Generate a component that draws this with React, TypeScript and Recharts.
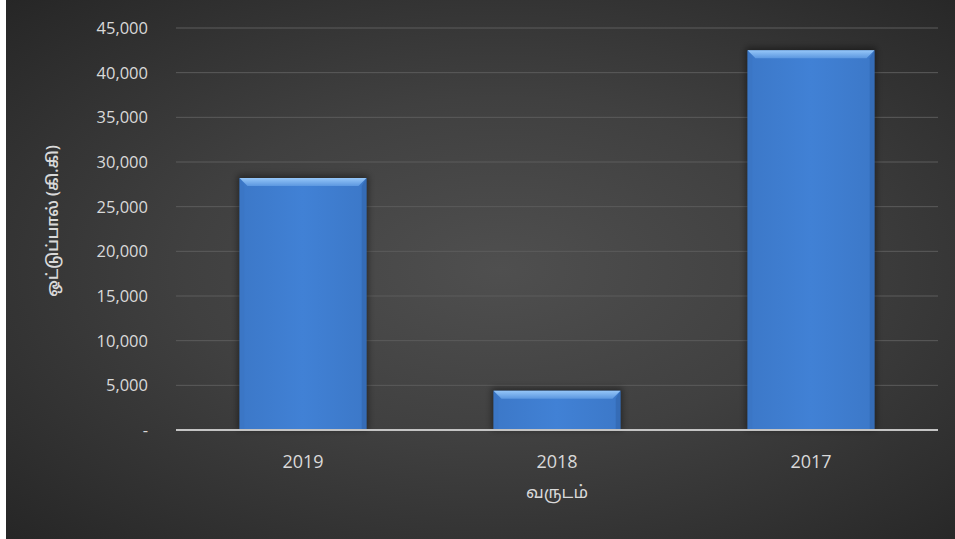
import React from 'react';
import { BarChart, Bar, XAxis, YAxis, CartesianGrid } from 'recharts';

const years = ['2019', '2018', '2017'];
const scrapKg = [28200, 4400, 42500];
const yTicks = [0, 5000, 10000, 15000, 20000, 25000, 30000, 35000, 40000, 45000];

const data = years.map((year, i) => ({ year, value: scrapKg[i] }));

const font = '"Open Sans", "Noto Sans", sans-serif';
const tamilFont = '"Noto Sans", "Noto Sans Tamil", "Lato", sans-serif';

const fmt = (v: number) => (v === 0 ? '-' : v.toLocaleString('en-US'));

// bevelled blue bar, like the office "bevel" preset
const BevelBar = (props: any) => {
  const { x, y, width, height } = props;
  if (!height || height <= 0) return null;
  const b = Math.min(8, height / 2);
  return (
    <g>
      <rect x={x - 2} y={y - 3} width={width + 4} height={height + 3} fill="rgba(0,0,0,0.4)" filter="url(#barShadow)" />
      <rect x={x} y={y} width={width} height={height} fill="url(#barBody)" />
      <polygon points={`${x},${y} ${x + width},${y} ${x + width - b},${y + b} ${x + b},${y + b}`} fill="url(#barTop)" />
      <polygon points={`${x},${y} ${x + b * 0.6},${y + b} ${x + b * 0.6},${y + height} ${x},${y + height}`} fill="#3a74c2" opacity={0.5} />
      <polygon points={`${x + width},${y} ${x + width - b * 0.6},${y + b} ${x + width - b * 0.6},${y + height} ${x + width},${y + height}`} fill="#2f63a8" opacity={0.55} />
    </g>
  );
};

export default function App() {
  return (
    <div style={{ position: 'absolute', left: 0, top: 0, width: 955, height: 539, background: '#ffffff' }}>
      <div
        style={{
          position: 'absolute',
          left: 6,
          top: 0,
          width: 949,
          height: 539,
          background: 'radial-gradient(ellipse at 52% 50%, #4f4f4f 0%, #404040 45%, #262626 100%)',
        }}
      >
        <BarChart
          width={949}
          height={539}
          data={data}
          margin={{ top: 28, right: 17, bottom: 0, left: 0 }}
          barCategoryGap="25%"
        >
          <defs>
            <linearGradient id="barBody" x1="0" y1="0" x2="1" y2="0">
              <stop offset="0%" stopColor="#3c78c8" />
              <stop offset="50%" stopColor="#4181d5" />
              <stop offset="100%" stopColor="#3c78c8" />
            </linearGradient>
            <linearGradient id="barTop" x1="0" y1="0" x2="0" y2="1">
              <stop offset="0%" stopColor="#95c6f8" />
              <stop offset="100%" stopColor="#5b97e0" />
            </linearGradient>
            <filter id="barShadow" x="-20%" y="-20%" width="140%" height="140%">
              <feGaussianBlur stdDeviation="3" />
            </filter>
          </defs>
          <CartesianGrid vertical={false} stroke="#5c5c5c" strokeWidth={1} />
          <XAxis
            dataKey="year"
            height={109}
            tickLine={false}
            axisLine={{ stroke: '#c4c4c4', strokeWidth: 2 }}
            tick={{ fill: '#d9d9d9', fontSize: 18, fontFamily: font }}
            tickMargin={19}
            label={{
              value: 'வருடம்',
              position: 'insideTop',
              offset: 56,
              fill: '#d9d9d9',
              fontSize: 17,
              fontFamily: tamilFont,
            }}
          />
          <YAxis
            width={170}
            domain={[0, 45000]}
            ticks={yTicks}
            interval={0}
            tickLine={false}
            axisLine={false}
            tickFormatter={fmt}
            tick={{ fill: '#d9d9d9', fontSize: 16.5, fontFamily: font }}
            tickMargin={22}
            label={{
              value: 'ஒட்டுப்பால் (கி.கி)',
              angle: -90,
              position: 'insideLeft',
              offset: 46,
              dy: -8,
              fill: '#d9d9d9',
              fontSize: 15.5,
              fontWeight: 600,
              fontFamily: tamilFont,
              style: { textAnchor: 'middle' },
            }}
          />
          <Bar dataKey="value" shape={BevelBar} isAnimationActive={false} />
        </BarChart>
      </div>
    </div>
  );
}
